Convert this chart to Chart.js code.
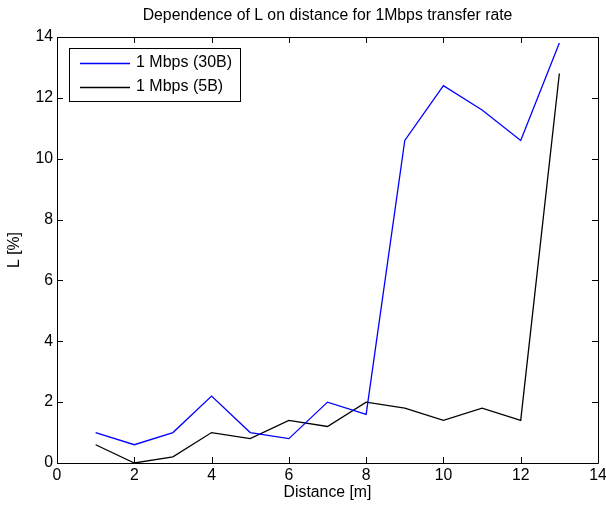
<!DOCTYPE html>
<html>
<head>
<meta charset="utf-8">
<title>Dependence of L on distance</title>
<script src="https://cdn.jsdelivr.net/npm/chart.js@4.4.0/dist/chart.umd.min.js"></script>
<style>
    html, body { margin: 0; padding: 0; background: #fff; }
    #wrap { width: 606px; height: 506px; }
</style>
</head>
<body>
<div id="wrap"><canvas id="lossChart" width="606" height="506"></canvas></div>
<script>
// Loss L [%] versus distance, 1 Mbps transfer rate

const distance = [1, 2, 3, 4, 5, 6, 7, 8, 9, 10, 11, 12, 13];
const loss30B  = [1.0, 0.6, 1.0, 2.2, 1.0, 0.8, 2.0, 1.6, 10.6, 12.4, 11.6, 10.6, 13.8];
const loss5B   = [0.6, 0.0, 0.2, 1.0, 0.8, 1.4, 1.2, 2.0, 1.8, 1.4, 1.8, 1.4, 12.8];
const xTicks   = [0, 2, 4, 6, 8, 10, 12, 14];
const yTicks   = [0, 2, 4, 6, 8, 10, 12, 14];

const FONT = "'Liberation Sans', Arial, Helvetica, sans-serif";
const FS = 15.8;
Chart.defaults.font.family = FONT;
Chart.defaults.color = "#000";

function toPoints(xs, ys) {
    return xs.map(function (x, i) { return { x: x, y: ys[i] }; });
}

// box around the axes plus inward tick marks on all four sides
const framePlugin = {
    id: "frame",
    afterDraw: function (chart) {
        var ctx = chart.ctx;
        var a = chart.chartArea;
        var xs = chart.scales.x, ys = chart.scales.y;
        var tl = 6;
        ctx.save();
        ctx.strokeStyle = "#000";
        ctx.lineWidth = 1;
        ctx.beginPath();
        ctx.rect(Math.round(a.left) + 0.5, Math.round(a.top) + 0.5,
                 Math.round(a.right - a.left), Math.round(a.bottom - a.top));
        xTicks.forEach(function (v) {
            var px = Math.round(xs.getPixelForValue(v)) + 0.5;
            ctx.moveTo(px, a.bottom); ctx.lineTo(px, a.bottom - tl);
            ctx.moveTo(px, a.top);    ctx.lineTo(px, a.top + tl);
        });
        yTicks.forEach(function (v) {
            var py = Math.round(ys.getPixelForValue(v)) + 0.5;
            ctx.moveTo(a.left, py);  ctx.lineTo(a.left + tl, py);
            ctx.moveTo(a.right, py); ctx.lineTo(a.right - tl, py);
        });
        ctx.stroke();

        // legend box, top-left inside the axes
        var bx = 69.5, by = 48.5, bw = 171, bh = 53;
        ctx.fillStyle = "#fff";
        ctx.fillRect(bx, by, bw, bh);
        ctx.strokeRect(bx, by, bw, bh);
        ctx.font = "16px " + FONT;
        ctx.textBaseline = "middle";
        ctx.textAlign = "left";
        chart.data.datasets.forEach(function (ds, i) {
            var y = 63 + i * 24;
            var col = chart.getDatasetMeta(i).dataset.options.borderColor;
            ctx.beginPath();
            ctx.strokeStyle = col;
            ctx.lineWidth = 1.3;
            ctx.moveTo(80, y + 0.5);
            ctx.lineTo(130, y + 0.5);
            ctx.stroke();
            ctx.fillStyle = "#000";
            ctx.fillText(ds.label, 136, y);
        });
        ctx.restore();
    }
};

new Chart(document.getElementById("lossChart"), {
    type: "line",
    data: {
        datasets: [
            {
                label: "1 Mbps (30B)",
                data: toPoints(distance, loss30B),
                borderColor: "#0000ff",
                backgroundColor: "#0000ff",
                borderWidth: 1.3,
                pointRadius: 0,
                tension: 0
            },
            {
                label: "1 Mbps (5B)",
                data: toPoints(distance, loss5B),
                borderColor: "#000000",
                backgroundColor: "#000000",
                borderWidth: 1.3,
                pointRadius: 0,
                tension: 0
            }
        ]
    },
    options: {
        responsive: false,
        animation: false,
        layout: { padding: { left: 0, right: 8, top: 0, bottom: 0 } },
        scales: {
            x: {
                type: "linear",
                min: 0,
                max: 14,
                afterBuildTicks: function (s) { s.ticks = xTicks.map(function (v) { return { value: v }; }); },
                afterFit: function (s) { s.height = 43; s.paddingLeft = 0; s.paddingRight = 0; },
                ticks: { padding: 3, font: { size: FS }, color: "#000", maxRotation: 0 },
                grid: { display: false, drawTicks: false },
                border: { display: false },
                title: {
                    display: true,
                    text: "Distance [m]",
                    font: { size: FS },
                    color: "#000",
                    padding: { top: 0, bottom: 3.5 }
                }
            },
            y: {
                type: "linear",
                min: 0,
                max: 14,
                afterBuildTicks: function (s) { s.ticks = yTicks.map(function (v) { return { value: v }; }); },
                afterFit: function (s) { s.width = 57; s.paddingTop = 0; s.paddingBottom = 0; },
                ticks: { padding: 4, font: { size: FS }, color: "#000" },
                grid: { display: false, drawTicks: false },
                border: { display: false },
                title: {
                    display: true,
                    text: "L [%]",
                    font: { size: FS },
                    color: "#000",
                    padding: { top: 5.5, bottom: 0 }
                }
            }
        },
        plugins: {
            legend: { display: false },
            tooltip: { enabled: false },
            title: {
                display: true,
                text: "Dependence of L on distance for 1Mbps transfer rate",
                fullSize: false,
                font: { size: FS, weight: "normal" },
                color: "#000",
                padding: { top: 6, bottom: 12.04 }
            }
        }
    },
    plugins: [framePlugin]
});
</script>
</body>
</html>
